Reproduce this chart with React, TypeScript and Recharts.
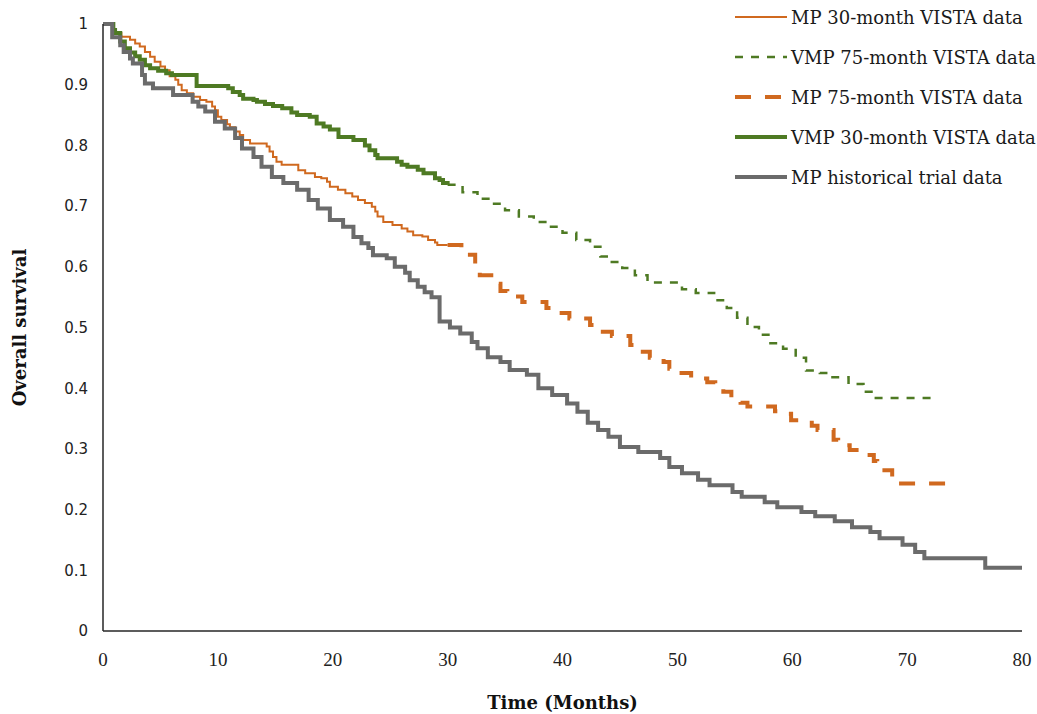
import { LineChart, Line, XAxis, YAxis } from "recharts";

// Kaplan-Meier steps: [month, survival]
const mp30: [number, number][] = [
  [0, 1], [0.9, 0.99], [1.05, 0.985], [1.6, 0.979], [2.35, 0.974], [2.8, 0.968], [3.2, 0.963],
  [3.65, 0.954], [4.1, 0.946], [4.5, 0.938], [5.0, 0.93], [5.4, 0.924], [5.8, 0.914],
  [6.3, 0.908], [6.55, 0.9], [6.85, 0.891], [7.3, 0.886], [7.85, 0.88], [8.45, 0.875],
  [9.0, 0.872], [9.5, 0.864], [9.75, 0.858], [10.0, 0.847], [10.3, 0.842], [10.8, 0.835],
  [11.05, 0.83], [11.5, 0.823], [11.9, 0.817], [12.2, 0.809], [12.8, 0.803], [14.25, 0.798],
  [14.5, 0.79], [14.8, 0.781], [15.1, 0.773], [15.55, 0.768], [17.0, 0.759], [17.6, 0.754],
  [18.45, 0.748], [19.0, 0.746], [19.5, 0.74], [19.75, 0.732], [20.45, 0.727], [21.1, 0.721],
  [21.7, 0.716], [22.2, 0.71], [22.8, 0.705], [23.4, 0.699], [23.7, 0.691], [23.9, 0.683],
  [24.4, 0.674], [25.2, 0.669], [26.0, 0.663], [26.5, 0.658], [27.0, 0.652], [27.8, 0.65],
  [28.3, 0.644], [28.9, 0.64], [29.1, 0.636], [30, 0.636],
];

const vmp75: [number, number][] = [
  [30, 0.735], [31.3, 0.723], [32.6, 0.712], [33.8, 0.704], [35.0, 0.693], [36.2, 0.683],
  [37.5, 0.674], [38.8, 0.666], [40.0, 0.656], [41.2, 0.644], [42.4, 0.633], [43.3, 0.617],
  [44.0, 0.608], [45.2, 0.598], [46.3, 0.586], [47.4, 0.574], [50.4, 0.563], [51.6, 0.557],
  [53.2, 0.545], [54.3, 0.532], [55.2, 0.516], [56.1, 0.501], [57.1, 0.488], [58.1, 0.474],
  [59.2, 0.465], [60.3, 0.45], [61.2, 0.429], [62.4, 0.425], [63.5, 0.418], [64.9, 0.407],
  [66.2, 0.394], [66.9, 0.384], [72.6, 0.384],
];

const mp75: [number, number][] = [
  [30, 0.636], [31.2, 0.62], [32.4, 0.598], [32.8, 0.586], [34.0, 0.572], [34.6, 0.56],
  [35.2, 0.551], [36.5, 0.542], [38.6, 0.532], [39.4, 0.524], [40.6, 0.515], [42.4, 0.504],
  [43.1, 0.493], [44.3, 0.486], [45.9, 0.471], [46.6, 0.46], [47.6, 0.45], [48.8, 0.443],
  [49.3, 0.432], [50.0, 0.425], [51.2, 0.416], [52.6, 0.41], [53.3, 0.401], [54.0, 0.394],
  [54.7, 0.384], [55.5, 0.376], [56.1, 0.37], [58.5, 0.362], [59.0, 0.358], [59.9, 0.347],
  [61.7, 0.338], [62.2, 0.331], [63.6, 0.315], [64.0, 0.306], [65.0, 0.298], [65.6, 0.29],
  [67.1, 0.28], [67.4, 0.265], [68.7, 0.243], [74.2, 0.243],
];

const vmp30: [number, number][] = [
  [0, 1], [0.9, 0.99], [1.05, 0.985], [1.5, 0.971], [1.9, 0.96], [2.35, 0.953], [2.8, 0.947],
  [3.2, 0.941], [3.65, 0.932], [4.1, 0.927], [4.8, 0.923], [5.5, 0.919], [6.0, 0.916],
  [8.15, 0.898], [10.9, 0.894], [11.3, 0.888], [11.9, 0.883], [12.2, 0.877], [13.1, 0.875],
  [13.4, 0.872], [14.1, 0.868], [14.8, 0.865], [15.6, 0.861], [16.4, 0.854], [16.9, 0.85],
  [18.0, 0.847], [18.6, 0.836], [19.2, 0.831], [19.75, 0.826], [20.5, 0.814], [21.8, 0.809],
  [22.8, 0.8], [23.2, 0.792], [23.7, 0.784], [23.9, 0.779], [25.6, 0.773], [26.0, 0.768],
  [26.5, 0.765], [27.4, 0.76], [27.9, 0.754], [28.9, 0.746], [29.3, 0.743], [29.6, 0.738],
  [30, 0.735],
];

const mpHist: [number, number][] = [
  [0, 1], [0.8, 0.978], [1.5, 0.965], [1.8, 0.954], [2.35, 0.943], [2.6, 0.935], [3.4, 0.916],
  [3.65, 0.902], [4.35, 0.894], [6.1, 0.883], [7.8, 0.872], [8.3, 0.864], [8.9, 0.856],
  [9.75, 0.839], [10.6, 0.828], [11.5, 0.812], [12.1, 0.795], [13.1, 0.781], [13.8, 0.765],
  [14.7, 0.748], [15.7, 0.738], [16.9, 0.727], [17.9, 0.71], [18.7, 0.696], [19.75, 0.677],
  [20.9, 0.666], [21.8, 0.649], [22.5, 0.639], [23.1, 0.631], [23.5, 0.619], [24.7, 0.614],
  [25.4, 0.6], [26.3, 0.59], [26.7, 0.578], [27.4, 0.567], [28.0, 0.558], [28.6, 0.55],
  [29.3, 0.51], [30.2, 0.5], [31.1, 0.49], [32.1, 0.476], [32.6, 0.466], [33.5, 0.451],
  [34.6, 0.443], [35.4, 0.43], [36.9, 0.422], [37.9, 0.4], [39.1, 0.389], [40.4, 0.375],
  [41.3, 0.361], [42.2, 0.343], [43.1, 0.331], [44.0, 0.32], [45.0, 0.303], [46.6, 0.295],
  [48.5, 0.285], [49.3, 0.27], [50.4, 0.26], [51.8, 0.249], [52.8, 0.24], [54.8, 0.229],
  [55.6, 0.221], [57.6, 0.212], [58.7, 0.204], [60.8, 0.196], [62.0, 0.189], [63.7, 0.181],
  [65.2, 0.171], [66.8, 0.163], [67.6, 0.153], [69.6, 0.142], [70.7, 0.13], [71.5, 0.12],
  [76.8, 0.104], [80, 0.104],
];

const xTicks = [0, 10, 20, 30, 40, 50, 60, 70, 80];
const yTicks = [0, 0.1, 0.2, 0.3, 0.4, 0.5, 0.6, 0.7, 0.8, 0.9, 1];

const ORANGE = "#D0691F";
const GREEN = "#4E7A23";
const GREY = "#6B6B6B";

const series = [
  { name: "MP 30-month VISTA data", rows: mp30, color: ORANGE, width: 2, dash: undefined },
  { name: "VMP 75-month VISTA data", rows: vmp75, color: GREEN, width: 2.5, dash: "8 8" },
  { name: "MP 75-month VISTA data", rows: mp75, color: ORANGE, width: 4, dash: "16 14" },
  { name: "VMP 30-month VISTA data", rows: vmp30, color: GREEN, width: 4, dash: undefined },
  { name: "MP historical trial data", rows: mpHist, color: GREY, width: 4, dash: undefined },
];

const serif = "'DejaVu Serif', serif";

function fmtY(v: number) {
  if (v === 0 || v === 1) return String(v);
  return v.toFixed(1);
}

export default function App() {
  return (
    <div style={{ position: "absolute", left: 0, top: 0, width: 1037, height: 714, background: "#fff" }}>
      <LineChart width={1037} height={714} margin={{ top: 24, right: 15, left: 0, bottom: 0 }}>
        <XAxis
          type="number"
          dataKey="x"
          domain={[0, 80]}
          ticks={xTicks}
          allowDuplicatedCategory={false}
          height={83}
          tickLine={false}
          tickSize={0}
          tickMargin={22}
          axisLine={{ stroke: "#262626", strokeWidth: 1.5 }}
          tick={{ fill: "#222", fontSize: 19, fontFamily: "'Liberation Serif', serif" }}
          label={{
            value: "Time (Months)",
            position: "insideBottom",
            offset: 5,
            style: { fontFamily: serif, fontWeight: "bold", fontSize: 18, fill: "#111" },
          }}
        />
        <YAxis
          type="number"
          dataKey="y"
          domain={[0, 1]}
          ticks={yTicks}
          width={103}
          tickLine={false}
          tickSize={0}
          tickMargin={15}
          tickFormatter={fmtY}
          axisLine={{ stroke: "#262626", strokeWidth: 1.5 }}
          tick={{ fill: "#222", fontSize: 15, fontFamily: "'DejaVu Sans', sans-serif" }}
          label={{
            value: "Overall survival",
            angle: -90,
            position: "insideLeft",
            offset: 20,
            style: { textAnchor: "middle", fontFamily: serif, fontWeight: "bold", fontSize: 18, fill: "#111" },
          }}
        />
        {series.map((s) => (
          <Line
            key={s.name}
            name={s.name}
            data={s.rows.map(([x, y]) => ({ x, y }))}
            dataKey="y"
            type="stepAfter"
            stroke={s.color}
            strokeWidth={s.width}
            strokeDasharray={s.dash}
            dot={false}
            activeDot={false}
            isAnimationActive={false}
          />
        ))}
      </LineChart>
      <div style={{ position: "absolute", left: 735, top: -3 }}>
        {series.map((s) => (
          <div key={s.name} style={{ display: "flex", alignItems: "center", height: 40 }}>
            <svg width={52} height={10} style={{ marginRight: 4 }}>
              <line
                x1={0}
                y1={5}
                x2={52}
                y2={5}
                stroke={s.color}
                strokeWidth={s.width}
                strokeDasharray={s.dash}
              />
            </svg>
            <span style={{ fontFamily: serif, fontSize: 18, color: "#1a1a1a", whiteSpace: "nowrap" }}>{s.name}</span>
          </div>
        ))}
      </div>
    </div>
  );
}
